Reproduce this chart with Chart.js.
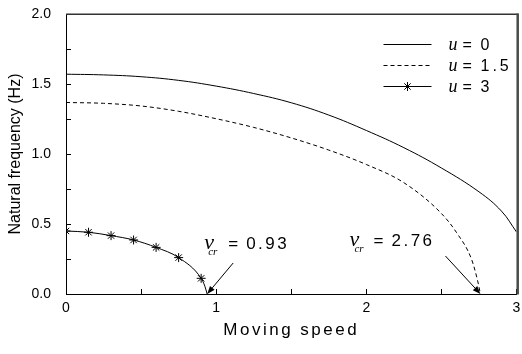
<!DOCTYPE html>
<html><head><meta charset="utf-8">
<script src="https://cdn.jsdelivr.net/npm/chart.js@4.4.1/dist/chart.umd.min.js"></script>
<style>html,body{margin:0;padding:0;background:#fff}canvas{display:block}</style>
</head><body>
<canvas id="c" width="522" height="354"></canvas>
<script>
// ---- data ----
const uValues = ['0', '1.5', '3'];
const speedU0 = [0, 0.25, 0.5, 0.75, 1, 1.25, 1.5, 1.75, 2, 2.25, 2.5, 2.75, 2.9, 3];
const freqU0 = [1.570, 1.565, 1.552, 1.526, 1.485, 1.432, 1.366, 1.278, 1.168, 1.045, 0.900, 0.730, 0.592, 0.443];
const speedU15 = [0, 0.25, 0.5, 0.75, 1, 1.25, 1.5, 1.75, 2, 2.25, 2.5, 2.6, 2.7, 2.74, 2.76];
const freqU15 = [1.368, 1.362, 1.343, 1.305, 1.252, 1.190, 1.115, 1.028, 0.925, 0.795, 0.575, 0.44, 0.25, 0.10, 0];
const speedU3 = [0, 0.15, 0.3, 0.45, 0.6, 0.75, 0.9, 0.925, 0.94];
const freqU3 = [0.450, 0.441, 0.417, 0.386, 0.333, 0.260, 0.112, 0.055, 0];
const markedU3 = [true, true, true, true, true, true, true, false, false];
const criticalSpeeds = [0.94, 2.76];
const criticalLabels = ['0.93', '2.76'];
const xTickValues = [0, 1, 2, 3];
const yTickValues = [0, 0.5, 1, 1.5, 2];

// ---- styles / layout ----
const SANS = '"Liberation Sans", Arial, sans-serif';
const SERIF = '"Liberation Serif", "Times New Roman", serif';
const critLayout = [
  { dx: 26, dy: -31, tx: -3, ty: -45, crx: 4, cry: 5.5 },
  { dx: -35, dy: -38, tx: -131, ty: -48, crx: 5, cry: 5.5 }
];

const toPts = (xs, ys) => xs.map((x, i) => ({ x: x, y: ys[i] }));

const datasets = [
  { label: 'u = ' + uValues[0], data: toPts(speedU0, freqU0), borderColor: '#000', borderWidth: 1,
    pointRadius: 0, tension: 0.4, fill: false },
  { label: 'u = ' + uValues[1], data: toPts(speedU15, freqU15), borderColor: '#000', borderWidth: 1,
    borderDash: [4, 3], pointRadius: 0, cubicInterpolationMode: 'monotone', fill: false },
  { label: 'u = ' + uValues[2], data: toPts(speedU3, freqU3), borderColor: '#000', borderWidth: 1,
    pointStyle: 'star', pointRadius: markedU3.map(m => m ? 4.5 : 0), pointBorderColor: '#000',
    pointBorderWidth: 1, pointBackgroundColor: '#000', cubicInterpolationMode: 'monotone', fill: false,
    clip: { left: 0, top: 5, right: 5, bottom: 5 } }
];

function drawStar(ctx, x, y, r) {
  ctx.beginPath();
  for (let k = 0; k < 4; k++) {
    const a = k * Math.PI / 4;
    ctx.moveTo(x - r * Math.cos(a), y - r * Math.sin(a));
    ctx.lineTo(x + r * Math.cos(a), y + r * Math.sin(a));
  }
  ctx.stroke();
}

const framePlugin = {
  id: 'frame',
  beforeDraw(chart) {
    const sx = chart.scales.x;
    if (sx && !sx._lsPatched) {
      const orig = sx.drawTitle;
      sx.drawTitle = function () {
        const c = this.ctx; c.save(); c.letterSpacing = '2.5px'; orig.apply(this, arguments); c.restore();
      };
      sx._lsPatched = true;
    }
  },
  afterDraw(chart) {
    const { ctx, chartArea: a } = chart;
    ctx.save();
    ctx.strokeStyle = '#333'; ctx.lineWidth = 1.5;
    ctx.beginPath(); ctx.moveTo(a.left, a.top + 0.25); ctx.lineTo(a.right + 2, a.top + 0.25); ctx.stroke();
    ctx.strokeStyle = '#4a4a4a'; ctx.lineWidth = 2.5;
    ctx.beginPath(); ctx.moveTo(a.right + 1.2, a.top - 0.5); ctx.lineTo(a.right + 1.2, a.bottom + 0.5); ctx.stroke();
    ctx.restore();
  }
};

const legendPlugin = {
  id: 'mixedLegend',
  afterDraw(chart) {
    const { ctx, chartArea: a } = chart;
    const x0 = a.right - 133, y0 = a.top + 30, rowH = 21, lineLen = 48;
    chart.data.datasets.forEach((ds, i) => {
      const y = y0 + i * rowH + 0.5;
      ctx.save();
      ctx.strokeStyle = ds.borderColor; ctx.lineWidth = ds.borderWidth;
      ctx.setLineDash(ds.borderDash || []);
      ctx.beginPath(); ctx.moveTo(x0, y); ctx.lineTo(x0 + lineLen, y); ctx.stroke();
      ctx.setLineDash([]);
      if (ds.pointStyle === 'star') drawStar(ctx, x0 + lineLen / 2, y, 4.5);
      ctx.fillStyle = '#000'; ctx.textBaseline = 'alphabetic'; ctx.textAlign = 'left';
      ctx.font = 'italic 18px ' + SERIF; ctx.fillText('u', x0 + 65, y + 5.5);
      ctx.font = '16px ' + SANS; ctx.fillText('=', x0 + 79, y + 5.5);
      ctx.letterSpacing = '3px';
      ctx.fillText(uValues[i], x0 + 97, y + 5.5);
      ctx.restore();
    });
  }
};

const critPlugin = {
  id: 'criticalSpeeds',
  afterDatasetsDraw(chart) {
    const { ctx } = chart;
    const xs = chart.scales.x, ys = chart.scales.y;
    criticalSpeeds.forEach((v, i) => {
      const L = critLayout[i];
      const px = xs.getPixelForValue(v), py = ys.getPixelForValue(0);
      const sx = px + L.dx, sy = py + L.dy;
      const ang = Math.atan2(py - sy, px - sx);
      const hl = 8, hw = 3;
      ctx.save();
      ctx.strokeStyle = '#000'; ctx.fillStyle = '#000'; ctx.lineWidth = 1;
      ctx.beginPath(); ctx.moveTo(sx, sy);
      ctx.lineTo(px - hl * Math.cos(ang), py - hl * Math.sin(ang)); ctx.stroke();
      ctx.beginPath(); ctx.moveTo(px, py);
      ctx.lineTo(px - hl * Math.cos(ang) + hw * Math.sin(ang), py - hl * Math.sin(ang) - hw * Math.cos(ang));
      ctx.lineTo(px - hl * Math.cos(ang) - hw * Math.sin(ang), py - hl * Math.sin(ang) + hw * Math.cos(ang));
      ctx.closePath(); ctx.fill();
      const bx = px + L.tx, by = py + L.ty;
      ctx.textBaseline = 'alphabetic'; ctx.textAlign = 'left';
      ctx.font = 'italic 22px ' + SERIF; ctx.fillText('v', bx, by);
      ctx.font = 'italic 11px ' + SERIF; ctx.fillText('cr', bx + L.crx, by + L.cry);
      ctx.font = '17px ' + SANS; ctx.fillText('=', bx + 24, by - 0.5);
      ctx.letterSpacing = '2.5px';
      ctx.fillText(criticalLabels[i], bx + 42, by - 0.5);
      ctx.restore();
    });
  }
};

new Chart(document.getElementById('c'), {
  type: 'line',
  data: { datasets: datasets },
  options: {
    responsive: false,
    animation: false,
    devicePixelRatio: 1,
    layout: { padding: { left: 0, right: 5, top: 14, bottom: 0 } },
    plugins: { legend: { display: false }, tooltip: { enabled: false } },
    scales: {
      x: {
        type: 'linear', min: 0, max: 3,
        afterFit: s => { s.height = 60; s.paddingLeft = 0; s.paddingRight = 0; },
        ticks: {
          stepSize: 0.5, padding: 11, color: '#000', font: { family: SANS, size: 14 },
          maxRotation: 0, autoSkip: false,
          callback: v => xTickValues.includes(v) ? String(v) : ''
        },
        grid: { drawOnChartArea: false, drawTicks: true, tickLength: -5, color: '#000', tickColor: '#000' },
        border: { display: true, color: '#000', width: 1 },
        title: { display: true, text: 'Moving speed', color: '#000', font: { family: SANS, size: 17 },
                 padding: { top: 0, bottom: 13 } }
      },
      y: {
        type: 'linear', min: 0, max: 2,
        afterFit: s => { s.width = 66; s.paddingTop = 0; s.paddingBottom = 0; },
        ticks: {
          stepSize: 0.25, padding: 20, color: '#000', font: { family: SANS, size: 14 }, autoSkip: false,
          callback: v => yTickValues.some(t => Math.abs(t - v) < 1e-6) ? v.toFixed(1) : ''
        },
        grid: { drawOnChartArea: false, drawTicks: true, tickLength: -5, color: '#000', tickColor: '#000' },
        border: { display: true, color: '#000', width: 1 },
        title: { display: true, text: 'Natural frequency (Hz)', color: '#000', font: { family: SANS, size: 16 },
                 padding: { top: 5.5, bottom: 0 } }
      }
    }
  },
  plugins: [framePlugin, legendPlugin, critPlugin]
});
</script>
</body></html>
